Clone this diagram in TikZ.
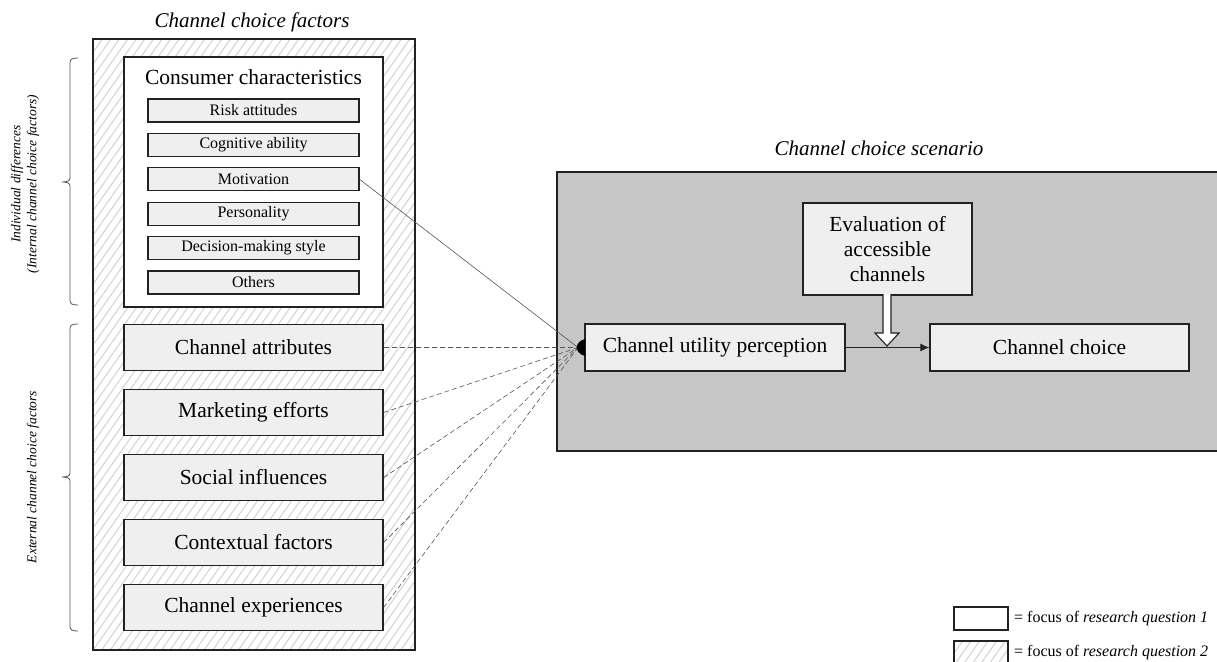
\documentclass[tikz,border=0pt]{standalone}
\usepackage{fontspec}
\setmainfont{Liberation Serif}
\usetikzlibrary{arrows.meta,patterns.meta}
\definecolor{boxgrey}{HTML}{EFEFEF}
\definecolor{scengrey}{HTML}{C6C6C6}
\definecolor{hatchgrey}{HTML}{D2D2D2}
\definecolor{edge}{HTML}{222222}
\definecolor{linegrey}{HTML}{555555}
\tikzset{
  hatched/.style={pattern={Lines[angle=55,distance=7pt,line width=1pt]}, pattern color=hatchgrey},
  bigbox/.style={draw=edge, line width=1.3pt, fill=boxgrey, inner sep=0pt, align=center,
    font=\fontsize{21.5}{25}\selectfont},
  subbox/.style={draw=edge, line width=1.1pt, fill=boxgrey, inner sep=0pt, minimum width=211pt,
    minimum height=23pt, font=\fontsize{16}{19}\selectfont},
  sidelabel/.style={rotate=90, font=\fontsize{13.5}{16}\selectfont\itshape, inner sep=0pt},
  titlelabel/.style={font=\fontsize{21}{25}\selectfont\itshape, inner sep=0pt},
  legendtext/.style={font=\fontsize{16}{19}\selectfont, anchor=west, inner sep=0pt},
  conn/.style={draw=linegrey, line width=0.6pt},
  dconn/.style={conn, dash pattern=on 5pt off 3pt},
  brace/.style={draw=linegrey, line width=0.8pt}
}
\begin{document}
\begin{tikzpicture}[x=1pt,y=-1pt]
\useasboundingbox (0,0) rectangle (1217,661);
% outer hatched box
\fill[white] (93,39) rectangle (415,650);
\path[hatched] (93,39) rectangle (415,650);
\draw[edge, line width=1.5pt] (93,39) rectangle (415,650);
\node[titlelabel] (lefttitle) at (252,22) {Channel choice factors};
% consumer characteristics
\node[draw=edge, line width=1.4pt, fill=white, minimum width=259pt, minimum height=250pt, inner sep=0pt] (cc) at (253.5,182) {};
\node[font=\fontsize{21.5}{25}\selectfont, inner sep=0pt] (cctitle) at (253.5,77) {Consumer characteristics};
\node[subbox] (risk) at (253.5,110.5) {Risk attitudes};
\node[subbox] (cog) at (253.5,144.9) {Cognitive ability};
\node[subbox] (mot) at (253.5,179.3) {Motivation};
\node[subbox] (pers) at (253.5,213.7) {Personality};
\node[subbox] (dec) at (253.5,248.1) {Decision-making style};
\node[subbox] (oth) at (253.5,282.5) {Others};
% external factors
\node[bigbox, minimum width=259pt, minimum height=46pt] (attr) at (253.5,347.5) {Channel attributes};
\node[bigbox, minimum width=259pt, minimum height=46pt] (mark) at (253.5,412.5) {Marketing efforts};
\node[bigbox, minimum width=259pt, minimum height=46pt] (soc) at (253.5,477.5) {Social influences};
\node[bigbox, minimum width=259pt, minimum height=46pt] (ctx) at (253.5,542.5) {Contextual factors};
\node[bigbox, minimum width=259pt, minimum height=46pt] (exp) at (253.5,607.5) {Channel experiences};
% braces
\draw[brace] (78,58) .. controls (72,58) and (70,59) .. (70,63) -- (70,178) .. controls (70,181) and (67,182) .. (62,182)
  .. controls (67,182) and (70,183) .. (70,186) -- (70,300) .. controls (70,304) and (72,305) .. (78,305);
\draw[brace] (78,324) .. controls (72,324) and (70,325) .. (70,329) -- (70,473) .. controls (70,476) and (67,477) .. (62,477)
  .. controls (67,477) and (70,478) .. (70,481) -- (70,626) .. controls (70,630) and (72,631) .. (78,631);
\node[sidelabel] (indiv) at (17,184) {Individual differences};
\node[sidelabel] (internal) at (33,184) {(Internal channel choice factors)};
\node[sidelabel] (external) at (33,477) {External channel choice factors};
% scenario
\node[titlelabel] (righttitle) at (879,148) {Channel choice scenario};
\fill[scengrey] (557,172) rectangle (1222,451);
\draw[edge, line width=1.3pt] (1222,172) -- (557,172) -- (557,451) -- (1222,451);
\node[bigbox, minimum width=260pt, minimum height=47pt] (cup) at (715,347.5) {Channel utility perception};
\node[bigbox, minimum width=259pt, minimum height=47pt] (choice) at (1059.5,347.5) {Channel choice};
\node[bigbox, minimum width=169pt, minimum height=92pt, font=\fontsize{21.5}{25}\selectfont] (eval) at (887.5,249) {Evaluation of\\accessible\\channels};
\draw[conn, draw=edge, line width=0.8pt, -{Latex[length=9pt,width=8pt]}] (cup.east) -- (choice.west);
% block arrow
\path[fill=white, draw=edge, line width=1.1pt] (883,294) -- (883,333) -- (875,333) -- (887,346) -- (899,333) -- (891,333) -- (891,294);
% hub
\coordinate (hub) at (578,347.5);
\draw[conn] (mot.east) -- (hub);
\draw[dconn] (attr.east) -- (hub);
\draw[dconn] (mark.east) -- (hub);
\draw[dconn] (soc.east) -- (hub);
\draw[dconn] (ctx.east) -- (hub);
\draw[dconn] (exp.east) -- (hub);
\fill[black] (585,339) .. controls (574,342) and (574,353) .. (585,356) -- cycle;
% legend
\node[draw=edge, line width=1.1pt, fill=white, minimum width=54pt, minimum height=23pt, inner sep=0pt] (leg1) at (981,618.5) {};
\fill[white] (954,641) rectangle (1008,664);
\path[hatched] (954,641) rectangle (1008,664);
\draw[edge, line width=1.1pt] (954,641) rectangle (1008,664);
\coordinate (leg2) at (1008,652.5);
\node[legendtext] (leg1t) at (1014,618.5) {= focus of \textit{research question 1}};
\node[legendtext] (leg2t) at (1014,652.5) {= focus of \textit{research question 2}};
\end{tikzpicture}
\end{document}
